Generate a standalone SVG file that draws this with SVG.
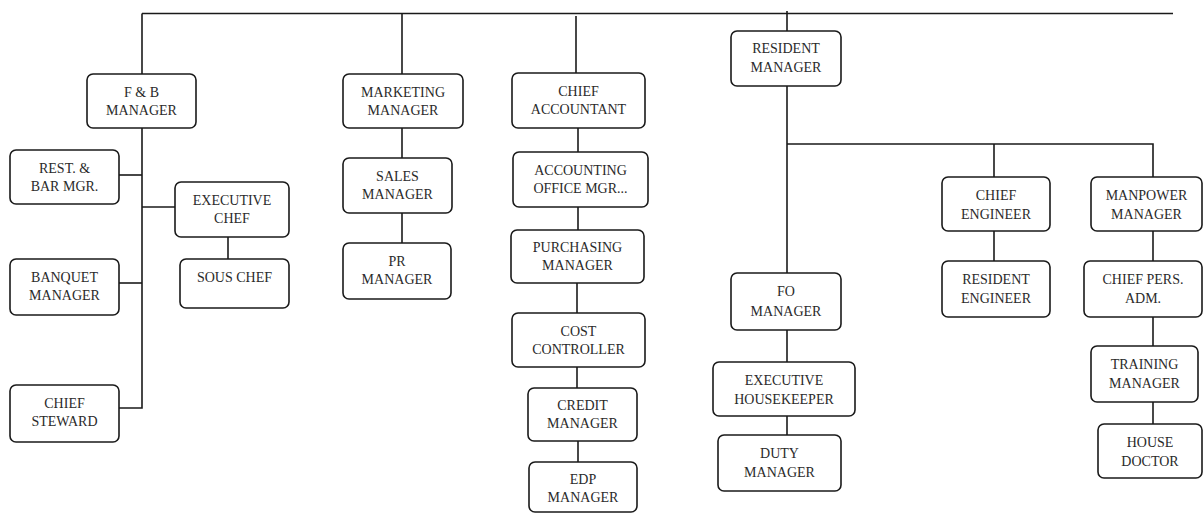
<svg xmlns="http://www.w3.org/2000/svg" width="1203" height="514" viewBox="0 0 1203 514">
<style>
.b{fill:#fff;stroke:#1a1a1a;stroke-width:1.6}
.t{font-family:"Liberation Serif","Times New Roman",serif;font-size:14px;fill:#2a2a2a;text-anchor:middle}
.c line,.c polyline{stroke:#1a1a1a;stroke-width:1.6;fill:none}
</style>
<rect width="1203" height="514" fill="#fff"/>
<g class="c" id="connectors">
<line x1="142" y1="13.5" x2="1173" y2="13.5"/>
<line x1="142" y1="13.5" x2="142" y2="74"/>
<line x1="402" y1="13.5" x2="402" y2="74"/>
<line x1="576" y1="16" x2="576" y2="73"/>
<line x1="787" y1="11" x2="787" y2="31"/>
<polyline points="142,128 142,408 119,408"/>
<line x1="119" y1="175" x2="142" y2="175"/>
<line x1="142" y1="207" x2="175" y2="207"/>
<line x1="119" y1="283" x2="142" y2="283"/>
<line x1="228" y1="237" x2="228" y2="259"/>
<line x1="402" y1="128" x2="402" y2="158"/>
<line x1="402" y1="213" x2="402" y2="243"/>
<line x1="578" y1="128" x2="578" y2="152"/>
<line x1="578" y1="207" x2="578" y2="230"/>
<line x1="577" y1="283" x2="577" y2="313"/>
<line x1="577" y1="367" x2="577" y2="388"/>
<line x1="578" y1="441" x2="578" y2="462"/>
<line x1="787" y1="86" x2="787" y2="273"/>
<polyline points="787,144 1153,144 1153,177"/>
<line x1="994" y1="144" x2="994" y2="177"/>
<line x1="994" y1="231" x2="994" y2="261"/>
<line x1="1153" y1="231" x2="1153" y2="261"/>
<line x1="1153" y1="317" x2="1153" y2="346"/>
<line x1="1153" y1="402" x2="1153" y2="424"/>
<line x1="787" y1="330" x2="787" y2="362"/>
<line x1="787" y1="416" x2="787" y2="435"/>
</g>
<g id="fb"><rect class="b" x="87" y="74" width="109" height="54" rx="6"/><text class="t" x="141.5" y="97">F &amp; B</text><text class="t" x="141.5" y="115">MANAGER</text></g>
<g id="rest"><rect class="b" x="10" y="150" width="109" height="54" rx="6"/><text class="t" x="64.5" y="173">REST. &amp;</text><text class="t" x="64.5" y="191">BAR MGR.</text></g>
<g id="execchef"><rect class="b" x="175" y="182" width="114" height="55" rx="6"/><text class="t" x="232" y="205">EXECUTIVE</text><text class="t" x="232" y="223">CHEF</text></g>
<g id="souschef"><rect class="b" x="180" y="259" width="109" height="49" rx="6"/><text class="t" x="234.5" y="282">SOUS CHEF</text></g>
<g id="banquet"><rect class="b" x="10" y="259" width="109" height="56" rx="6"/><text class="t" x="64.5" y="282">BANQUET</text><text class="t" x="64.5" y="300">MANAGER</text></g>
<g id="steward"><rect class="b" x="10" y="385" width="109" height="57" rx="6"/><text class="t" x="64.5" y="408">CHIEF</text><text class="t" x="64.5" y="426">STEWARD</text></g>
<g id="marketing"><rect class="b" x="343" y="74" width="120" height="54" rx="6"/><text class="t" x="403" y="97">MARKETING</text><text class="t" x="403" y="115">MANAGER</text></g>
<g id="sales"><rect class="b" x="343" y="158" width="109" height="55" rx="6"/><text class="t" x="397.5" y="181">SALES</text><text class="t" x="397.5" y="199">MANAGER</text></g>
<g id="pr"><rect class="b" x="343" y="243" width="108" height="56" rx="6"/><text class="t" x="397" y="266">PR</text><text class="t" x="397" y="284">MANAGER</text></g>
<g id="chiefacc"><rect class="b" x="512" y="73" width="133" height="55" rx="6"/><text class="t" x="578.5" y="96">CHIEF</text><text class="t" x="578.5" y="114">ACCOUNTANT</text></g>
<g id="accoffice"><rect class="b" x="513" y="152" width="135" height="55" rx="6"/><text class="t" x="580.5" y="175">ACCOUNTING</text><text class="t" x="580.5" y="193">OFFICE MGR...</text></g>
<g id="purchasing"><rect class="b" x="511" y="230" width="133" height="53" rx="6"/><text class="t" x="577.5" y="252">PURCHASING</text><text class="t" x="577.5" y="270">MANAGER</text></g>
<g id="cost"><rect class="b" x="512" y="313" width="133" height="54" rx="6"/><text class="t" x="578.5" y="336">COST</text><text class="t" x="578.5" y="354">CONTROLLER</text></g>
<g id="credit"><rect class="b" x="528" y="388" width="109" height="53" rx="6"/><text class="t" x="582.5" y="410">CREDIT</text><text class="t" x="582.5" y="428">MANAGER</text></g>
<g id="edp"><rect class="b" x="529" y="462" width="108" height="50" rx="6"/><text class="t" x="583" y="484">EDP</text><text class="t" x="583" y="502">MANAGER</text></g>
<g id="resident"><rect class="b" x="731" y="31" width="110" height="55" rx="6"/><text class="t" x="786" y="53">RESIDENT</text><text class="t" x="786" y="72">MANAGER</text></g>
<g id="fo"><rect class="b" x="731" y="273" width="110" height="57" rx="6"/><text class="t" x="786" y="296">FO</text><text class="t" x="786" y="316">MANAGER</text></g>
<g id="housekeeper"><rect class="b" x="713" y="362" width="142" height="54" rx="6"/><text class="t" x="784" y="385">EXECUTIVE</text><text class="t" x="784" y="404">HOUSEKEEPER</text></g>
<g id="duty"><rect class="b" x="718" y="435" width="123" height="56" rx="6"/><text class="t" x="779.5" y="458">DUTY</text><text class="t" x="779.5" y="477">MANAGER</text></g>
<g id="chiefeng"><rect class="b" x="942" y="177" width="108" height="54" rx="6"/><text class="t" x="996" y="200">CHIEF</text><text class="t" x="996" y="219">ENGINEER</text></g>
<g id="reseng"><rect class="b" x="942" y="261" width="108" height="56" rx="6"/><text class="t" x="996" y="284">RESIDENT</text><text class="t" x="996" y="303">ENGINEER</text></g>
<g id="manpower"><rect class="b" x="1091" y="177" width="111" height="54" rx="6"/><text class="t" x="1146.5" y="200">MANPOWER</text><text class="t" x="1146.5" y="219">MANAGER</text></g>
<g id="chiefpers"><rect class="b" x="1084" y="261" width="118" height="56" rx="6"/><text class="t" x="1143" y="284">CHIEF PERS.</text><text class="t" x="1143" y="303">ADM.</text></g>
<g id="training"><rect class="b" x="1091" y="346" width="107" height="56" rx="6"/><text class="t" x="1144.5" y="369">TRAINING</text><text class="t" x="1144.5" y="388">MANAGER</text></g>
<g id="doctor"><rect class="b" x="1098" y="424" width="104" height="54" rx="6"/><text class="t" x="1150" y="447">HOUSE</text><text class="t" x="1150" y="466">DOCTOR</text></g>
</svg>
